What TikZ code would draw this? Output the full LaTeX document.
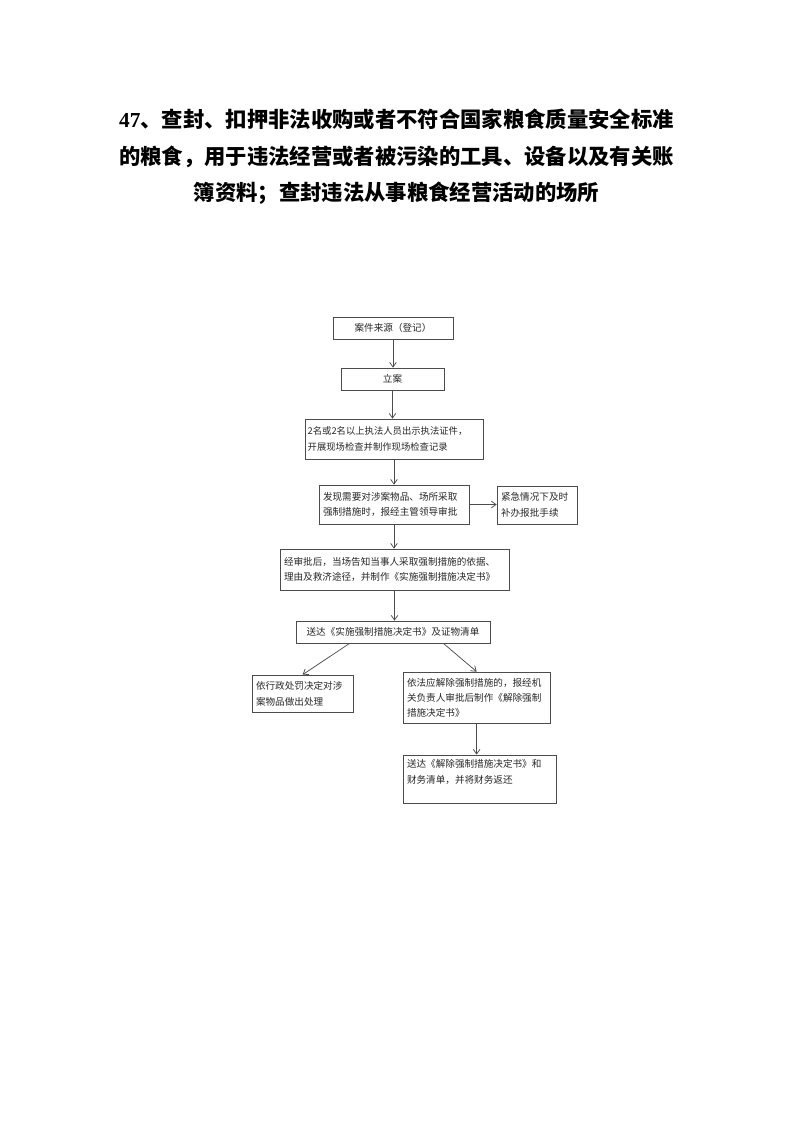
\documentclass[tikz,border=0pt]{standalone}
\usepackage{fontspec}
\setmainfont{Noto Sans CJK SC}
\newfontfamily\lserif{Liberation Serif}
\usetikzlibrary{arrows.meta,calc}
\tikzset{
  box/.style={draw=black!70, line width=0.55pt, inner xsep=3pt, inner ysep=0pt,
    font=\fontsize{7.2pt}{11.8pt}\selectfont, text=black!85},
  lbox/.style={box, align=left},
  cbox/.style={box, align=center},
  arr/.style={draw=black!70, line width=0.55pt, -{Straight Barb[length=3.5pt,width=5pt]}},
}
\begin{document}
\begin{tikzpicture}[x=0.75pt,y=-0.75pt]
\useasboundingbox (0,0) rectangle (793,1122);
% title
\node[align=center, font=\fontsize{16pt}{27.4pt}\selectfont\bfseries] (title) at (396.5,157)
  {{\lserif\bfseries 47}、查封、扣押非法收购或者不符合国家粮食质量安全标准\\
   的粮食，用于违法经营或者被污染的工具、设备以及有关账\\
   簿资料；查封违法从事粮食经营活动的场所};
% boxes
\node[cbox, minimum width=90pt, minimum height=16.5pt] (b1) at (393,328) {案件来源（登记）};
\node[cbox, minimum width=77.25pt, minimum height=16.5pt] (b2) at (392.5,379) {立案};
\node[lbox, text width=129.5pt, inner xsep=2pt, minimum height=30pt, font=\fontsize{7pt}{12pt}\selectfont] (b3) at (394,439)
  {2名或2名以上执法人员出示执法证件，\\开展现场检查并制作现场检查记录};
\node[lbox, text width=106.5pt, minimum height=29.25pt] (b4) at (394,504.5)
  {发现需要对涉案物品、场所采取\\强制措施时，报经主管领导审批};
\node[lbox, text width=54pt, minimum height=28.5pt] (side) at (537,505)
  {紧急情况下及时\\补办报批手续};
\node[lbox, text width=165.75pt, minimum height=30.75pt] (b5) at (394.5,569.5)
  {经审批后，当场告知当事人采取强制措施的依据、\\理由及救济途径，并制作《实施强制措施决定书》};
\node[cbox, minimum width=145.5pt, minimum height=16.5pt] (b6) at (393,632)
  {送达《实施强制措施决定书》及证物清单};
\node[lbox, text width=69.75pt, minimum height=27.75pt] (L) at (302.5,693.5)
  {依行政处罚决定对涉\\案物品做出处理};
\node[lbox, text width=104.25pt, minimum height=38.25pt, font=\fontsize{7.2pt}{11.2pt}\selectfont] (R) at (476.5,697.5)
  {依法应解除强制措施的，报经机\\关负责人审批后制作《解除强制\\措施决定书》};
\node[lbox, text width=108.75pt, minimum height=36pt] (b8) at (479.5,779)
  {送达《解除强制措施决定书》和\\财务清单，并将财务返还\\\mbox{}};
% connectors
\draw[arr] (b1.south) -- (b1.south |- b2.north);
\draw[arr] (b2.south) -- (b2.south |- b3.north);
\draw[arr] (b3.south) -- (b3.south |- b4.north);
\draw[arr] (b4.east) -- (b4.east -| side.west);
\draw[arr] (b4.south) -- (b4.south |- b5.north);
\draw[arr] (b5.south) -- (b5.south |- b6.north);
\draw[arr] ($(b6.south west)+(54,0)$) -- ($(L.north west)+(51,0)$);
\draw[arr] ($(b6.south east)+(-47,0)$) -- ($(R.north west)+(74,0)$);
\draw[arr] ($(R.south west)+(74,0)$) -- ($(b8.north west)+(74,0)$);
\end{tikzpicture}
\end{document}
